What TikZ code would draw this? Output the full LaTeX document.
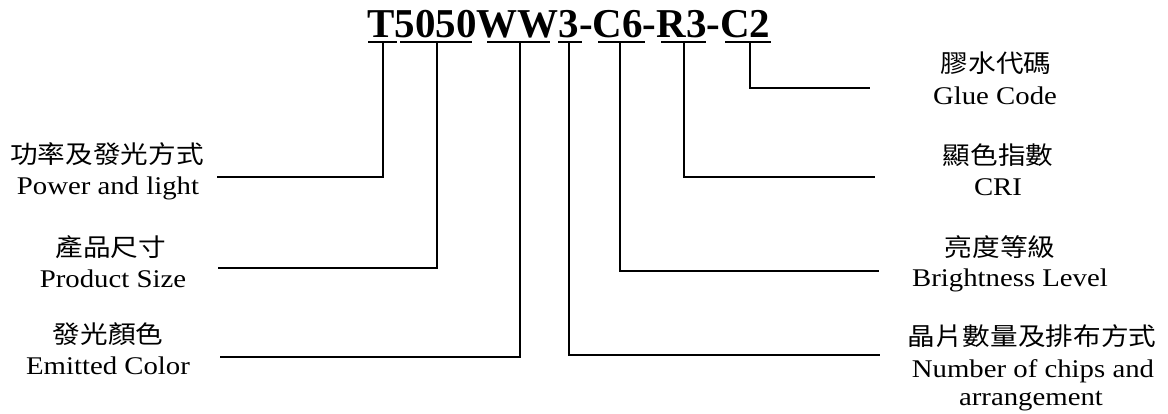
\documentclass[tikz,border=0pt]{standalone}
\usepackage{fontspec}
\setmainfont{Liberation Serif}
\newfontfamily\titlefont{Liberation Serif}
\newfontfamily\enfont[FakeStretch=1.13]{Liberation Serif}
\newfontfamily\cjkfont[FakeStretch=1.12]{Noto Sans CJK TC}
\begin{document}
\begin{tikzpicture}[x=0.75pt,y=-0.75pt,
  en/.style={font=\enfont\fontsize{19.1}{22}\selectfont, inner sep=0pt, anchor=base},
  cj/.style={font=\cjkfont\fontsize{18.5}{22}\selectfont, inner sep=0pt, anchor=center},
  titlestyle/.style={font=\titlefont\bfseries\fontsize{30.75}{36}\selectfont, inner sep=0pt, anchor=base west},
  conn/.style={line width=1.4pt, black},
  uline/.style={line width=1.4pt, black}]
\useasboundingbox (0,0) rectangle (1168,414);

% title code
\node[titlestyle] (title) at (367,37) {T5050WW3-C6-R3-C2};

% underline segments
\draw[uline] (368,42) -- (397,42);
\draw[uline] (400,42) -- (472,42);
\draw[uline] (487,42) -- (550,42);
\draw[uline] (558,42) -- (582,42);
\draw[uline] (598,42) -- (645,42);
\draw[uline] (661,42) -- (706,42);
\draw[uline] (725,42) -- (771,42);

% connector start points (on underlines)
\coordinate (tT) at (383,42);
\coordinate (t5050) at (437,42);
\coordinate (tWW) at (520,42);
\coordinate (t3) at (569,42);
\coordinate (tC6) at (620,42);
\coordinate (tR3) at (684,42);
\coordinate (tC2) at (750,42);

% connector ends near labels
\coordinate (lT) at (217,177);
\coordinate (l5050) at (218,268);
\coordinate (lWW) at (220,357);
\coordinate (l3) at (880,355);
\coordinate (lC6) at (879,271);
\coordinate (lR3) at (875,177);
\coordinate (lC2) at (870,88);

% left labels
\node[cj] (c1) at (107,154) {功率及發光方式};
\node[en] (e1) at (108,194) {Power and light};
\node[cj] (c2) at (111,247.5) {產品尺寸};
\node[en] (e2) at (113,287.5) {Product Size};
\node[cj] (c3) at (108,334.5) {發光顏色};
\node[en] (e3) at (108,374) {Emitted Color};

% right labels
\node[cj] (c4) at (996,63.5) {膠水代碼};
\node[en] (e4) at (995,104) {Glue Code};
\node[cj] (c5) at (998,155) {顯色指數};
\node[en] (e5) at (998,195) {CRI};
\node[cj] (c6) at (1000,247) {亮度等級};
\node[en] (e6) at (1010,286.5) {Brightness Level};
\node[cj] (c7) at (1032,336) {晶片數量及排布方式};
\node[en] (e7) at (1033,377) {Number of chips and};
\node[en] (e8) at (1031,405) {arrangement};

% connectors
\draw[conn] (tT) |- (lT);
\draw[conn] (t5050) |- (l5050);
\draw[conn] (tWW) |- (lWW);
\draw[conn] (t3) |- (l3);
\draw[conn] (tC6) |- (lC6);
\draw[conn] (tR3) |- (lR3);
\draw[conn] (tC2) |- (lC2);
\end{tikzpicture}
\end{document}
